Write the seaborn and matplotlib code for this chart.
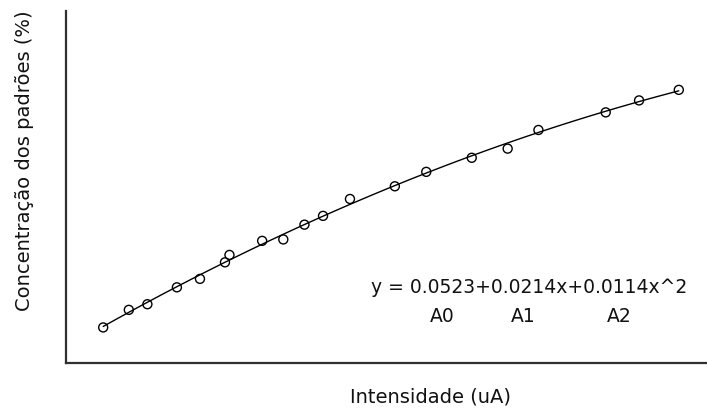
import numpy as np
import pandas as pd
import seaborn as sns
import matplotlib.pyplot as plt

# Values (axis units are arbitrary, no ticks shown)
intensidade = [5.8, 9.8, 12.7, 17.3, 20.9, 24.8, 25.5, 30.6, 33.9, 37.2,
               40.1, 44.3, 51.3, 56.2, 63.3, 68.9, 73.7, 84.2, 89.4, 95.6]
concentracao = [10.1, 15.1, 16.7, 21.5, 23.9, 28.6, 30.7, 34.7, 35.1, 39.3,
                41.8, 46.6, 50.2, 54.3, 58.3, 60.9, 66.2, 71.2, 74.6, 77.6]
equacao = "y = 0.0523+0.0214x+0.0114x^2"
coef_labels = ["A0", "A1", "A2"]
coef_x = [58.7, 71.3, 86.3]

df = pd.DataFrame({'x': intensidade, 'y': concentracao})

sns.set_style('white')
plt.rcParams['font.family'] = ['DejaVu Sans']

fig = plt.figure(figsize=(7.07, 4.10), dpi=100)
ax = fig.add_axes([66 / 707, 46 / 410, 641 / 707, 352 / 410])

# fitted curve (2nd order) and the open circles
sns.regplot(data=df, x='x', y='y', order=2, ci=None, scatter=False,
            line_kws={'color': 'black', 'linewidth': 1.0}, ax=ax)
sns.scatterplot(data=df, x='x', y='y', s=42, facecolors='none',
                edgecolor='black', linewidth=1.0, ax=ax, zorder=3)

ax.set_xlim(0, 100)
ax.set_ylim(0, 100)
ax.set_xticks([])
ax.set_yticks([])
sns.despine(ax=ax)
for side in ['left', 'bottom']:
    ax.spines[side].set_color('#303030')
    ax.spines[side].set_linewidth(1.6)

ax.set_xlabel('Intensidade (uA)', fontsize=14, va='center', color='#111111')
ax.xaxis.set_label_coords(0.569, -0.094)
ax.set_ylabel('Concentração dos padrões (%)', fontsize=14, va='center', color='#111111')
ax.yaxis.set_label_coords(-0.0655, 0.577)

ax.text(72.2, 21.6, equacao, fontsize=13.5, ha='center', va='center', color='#111111')
for lab, xc in zip(coef_labels, coef_x):
    ax.text(xc, 13.6, lab, fontsize=13.5, ha='center', va='center', color='#111111')

fig.savefig('out.png', dpi=100)
